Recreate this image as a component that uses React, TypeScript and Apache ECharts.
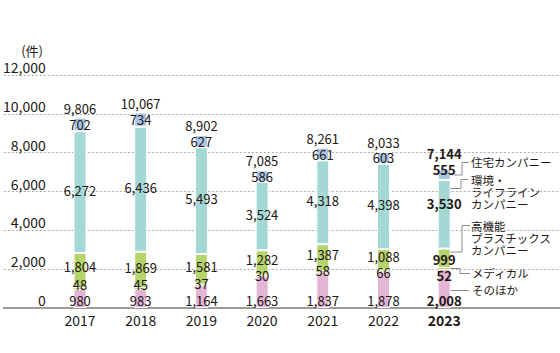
import React, { useEffect, useRef } from "react";
import * as echarts from "echarts";

const years = ["2017", "2018", "2019", "2020", "2021", "2022", "2023"];
const other = [980, 983, 1164, 1663, 1837, 1878, 2008];
const medical = [48, 45, 37, 30, 58, 66, 52];
const plastics = [1804, 1869, 1581, 1282, 1387, 1088, 999];
const lifeline = [6272, 6436, 5493, 3524, 4318, 4398, 3530];
const housing = [702, 734, 627, 586, 661, 603, 555];
const totals = [9806, 10067, 8902, 7085, 8261, 8033, 7144];
const yMax = 12000;
const yStep = 2000;

// label nudges (style only)
const medicalDy = [-4, -4, -2, 0, -1, 2, 7];
const plasticsDy = [-4, -2, -3, -3, -3, -3, 1];
const lifelineDy = [-2, -2, -2, -2, -2, -2, -11];
const housingDy = [0, 0, 0, 0, 0, 0, -5];
const totalDist = [3, 3, 3, 3, 3, 3, 9];

const FONT = "'Noto Sans CJK JP', 'Noto Sans', sans-serif";
const TXT = "#231815";
const fmt = (v: number) => v.toLocaleString("en-US");
const last = years.length - 1;

function makeData(values: number[], dy: number[] | null, pos: string) {
  return values.map((v, i) => ({
    value: v,
    label: {
      offset: dy ? [0, dy[i]] : [0, 0],
      fontWeight: i === last ? "bold" : "normal",
      position: pos,
    },
  }));
}

export default function App() {
  const ref = useRef<HTMLDivElement>(null);
  useEffect(() => {
    document.body.style.margin = "0";
    if (!ref.current) return;
    const chart = echarts.init(ref.current, null, { renderer: "svg" });
    const baseLabel = {
      show: true,
      color: TXT,
      fontFamily: FONT,
      fontSize: 13,
      formatter: (p: any) => fmt(p.value),
    };
    const barCommon = {
      type: "bar",
      stack: "a",
      xAxisIndex: 1,
      yAxisIndex: 1,
      barWidth: 13,
    };
    const legendText = (text: string, x: number, y: number) => ({
      type: "text",
      x,
      y,
      style: {
        text,
        fill: TXT,
        font: `11.5px ${FONT}`,
        lineHeight: 12,
        verticalAlign: "top",
        align: "left",
      },
    });
    const leader = (pts: number[][]) => ({
      type: "polyline",
      shape: { points: pts },
      style: { stroke: "#8c8c8c", lineWidth: 1, fill: "none" },
    });
    chart.setOption({
      animation: false,
      grid: [
        { left: 0, right: 0, top: 75, bottom: 45 },
        { left: 49.65, right: 85.45, top: 75, bottom: 45 },
      ],
      xAxis: [
        {
          type: "value",
          gridIndex: 0,
          min: 0,
          max: 1,
          axisLine: { show: true, lineStyle: { color: "#9e9a96", width: 2 } },
          axisTick: { show: false },
          axisLabel: { show: false },
          splitLine: { show: false },
        },
        {
          type: "category",
          gridIndex: 1,
          data: years,
          axisLine: { show: false },
          axisTick: { show: false },
          axisLabel: {
            interval: 0,
            color: TXT,
            fontFamily: FONT,
            fontSize: 14,
            margin: 5,
            formatter: (v: string) => (v === years[last] ? `{b|${v}}` : v),
            rich: { b: { fontWeight: "bold", fontSize: 14, fontFamily: FONT, color: TXT } },
          },
        },
      ],
      yAxis: [
        {
          type: "value",
          gridIndex: 0,
          min: 0,
          max: yMax,
          interval: yStep,
          axisLine: { show: false },
          axisTick: { show: false },
          axisLabel: {
            inside: true,
            margin: 42,
            align: "right",
            verticalAlign: "bottom",
            padding: [0, 0, 1, 0],
            color: TXT,
            fontFamily: FONT,
            fontSize: 14,
            formatter: (v: number) => fmt(v),
          },
          splitLine: { show: true, lineStyle: { color: "#ababab", type: [2, 2], width: 1 } },
        },
        {
          type: "value",
          gridIndex: 1,
          min: 0,
          max: yMax,
          interval: yStep,
          show: false,
          splitLine: { show: false },
        },
      ],
      series: [
        {
          ...barCommon,
          name: "そのほか",
          data: makeData(other, null, "insideBottom"),
          itemStyle: { color: "#e3b6d6", borderColor: "#fff", borderWidth: 1 },
          label: { ...baseLabel, position: "insideBottom", distance: 1 },
        },
        {
          ...barCommon,
          name: "メディカル",
          data: makeData(medical, medicalDy, "inside"),
          itemStyle: { color: "#b6d36c" },
          label: { ...baseLabel, position: "inside" },
        },
        {
          ...barCommon,
          name: "高機能プラスチックスカンパニー",
          data: makeData(plastics, plasticsDy, "inside"),
          itemStyle: { color: "#b6d36c", borderColor: "#fff", borderWidth: 1 },
          label: { ...baseLabel, position: "inside" },
        },
        {
          ...barCommon,
          name: "環境・ライフラインカンパニー",
          data: makeData(lifeline, lifelineDy, "inside"),
          itemStyle: { color: "#a3d8d4", borderColor: "#fff", borderWidth: 1 },
          label: { ...baseLabel, position: "inside" },
        },
        {
          ...barCommon,
          name: "住宅カンパニー",
          data: makeData(housing, housingDy, "inside"),
          itemStyle: { color: "#a8c4e6", borderColor: "#fff", borderWidth: 1 },
          label: { ...baseLabel, position: "inside" },
        },
        {
          ...barCommon,
          name: "合計",
          data: totals.map((_, i) => ({
            value: 0,
            label: { distance: totalDist[i], fontWeight: i === last ? "bold" : "normal" },
          })),
          itemStyle: { color: "rgba(0,0,0,0)" },
          label: {
            ...baseLabel,
            position: "top",
            formatter: (p: any) => fmt(totals[p.dataIndex]),
          },
        },
      ],
      graphic: [
        {
          type: "text",
          x: 43,
          y: 50,
          style: {
            text: "(件)",
            fill: TXT,
            font: `13px ${FONT}`,
            align: "right",
            verticalAlign: "middle",
          },
        },
        legendText("住宅カンパニー", 471, 156),
        legendText("環境・\nライフライン\nカンパニー", 471, 174),
        legendText("高機能\nプラスチックス\nカンパニー", 471, 220),
        legendText("メディカル", 472, 267),
        legendText("そのほか", 472, 284),
        leader([[454, 175], [462, 175], [462, 162.5], [469, 162.5]]),
        leader([[450, 188.5], [461, 188.5], [461, 179.5], [468, 179.5]]),
        leader([[450, 252], [462, 252], [462, 225.5], [470, 225.5]]),
        leader([[450, 268.5], [460, 268.5], [460, 273.5], [470, 273.5]]),
        leader([[450, 290.5], [469, 290.5]]),
      ],
    });
    return () => chart.dispose();
  }, []);
  return <div ref={ref} style={{ width: 560, height: 353 }} />;
}
